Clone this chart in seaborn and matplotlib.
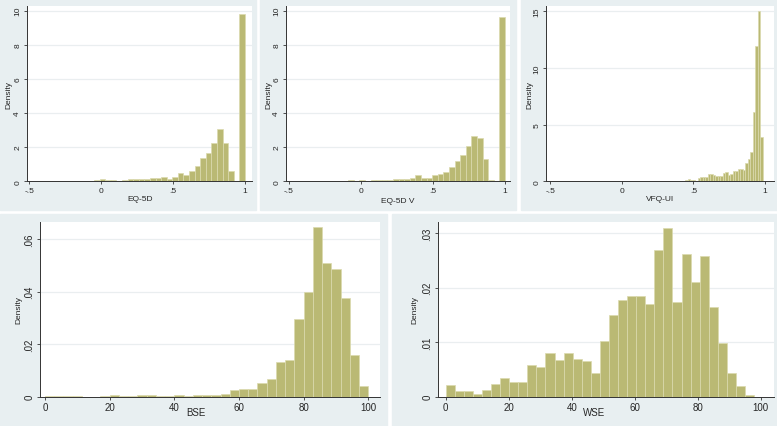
import numpy as np
import pandas as pd
import matplotlib
matplotlib.use("Agg")
import matplotlib.pyplot as plt
from matplotlib.patches import Rectangle
import seaborn as sns

# density of each histogram bin
eq5d_range = (-0.594, 1.0)
eq5d_density = [0, 0, 0, 0, 0, 0, 0, 0, 0.04, 0, 0, 0, 0, 0.03, 0.06, 0.12,
                0.08, 0.06, 0.04, 0.08, 0.12, 0.12, 0.14, 0.16, 0.18, 0.2, 0.25,
                0.12, 0.27, 0.47, 0.39, 0.62, 0.88, 1.37, 1.64, 2.27, 3.07, 2.27,
                0.62, 0, 9.82]

eq5dv_range = (-0.594, 1.0)
eq5dv_density = [0, 0, 0, 0, 0, 0, 0, 0, 0.03, 0, 0, 0, 0.02, 0.06, 0.03, 0.1,
                 0.02, 0.06, 0.06, 0.06, 0.08, 0.14, 0.14, 0.12, 0.18, 0.35, 0.18,
                 0.18, 0.39, 0.43, 0.57, 0.86, 1.17, 1.56, 2.05, 2.68, 2.52, 1.31,
                 0.05, 0, 9.65]

vfq_range = (0.425, 0.985)
vfq_density = [0.06, 0.12, 0.18, 0.15, 0.15, 0.05, 0.33, 0.35, 0.38, 0.4, 0.62,
               0.65, 0.52, 0.5, 0.5, 0.45, 0.75, 0.85, 0.55, 0.6, 0.9, 0.9, 1.1,
               1.05, 1.0, 1.65, 1.95, 2.55, 6.1, 11.9, 15.05, 3.9]

bse_range = (0, 100)
bse_density = [0.0003, 0.0003, 0.0001, 0.0004, 0, 0, 0.0001, 0.0005, 0.0002,
               0.0004, 0.0005, 0.0008, 0.0002, 0.0002, 0.0005, 0.0003, 0.0005,
               0.0005, 0.0006, 0.001, 0.0025, 0.003, 0.003, 0.0052, 0.0067,
               0.0133, 0.014, 0.0296, 0.040, 0.0644, 0.051, 0.0485, 0.0375,
               0.016, 0.004]

wse_range = (0, 97.9)
wse_density = [0.0021, 0.0011, 0.0011, 0.0005, 0.0012, 0.0023, 0.0034, 0.0027,
               0.0027, 0.0058, 0.0055, 0.0081, 0.0068, 0.0081, 0.0069, 0.0065,
               0.0043, 0.0102, 0.0149, 0.0177, 0.0184, 0.0184, 0.017, 0.0269,
               0.031, 0.0174, 0.0261, 0.0211, 0.0258, 0.0165, 0.0099, 0.0043,
               0.002, 0.0003]

top_xticks = [-0.5, 0, 0.5, 1]
top_xlabels = ["-.5", "0", ".5", "1"]
eq_yticks = [0, 2, 4, 6, 8, 10]
vfq_yticks = [0, 5, 10, 15]
bot_xticks = [0, 20, 40, 60, 80, 100]
bse_yticks = [0, 0.02, 0.04, 0.06]
bse_ylabels = ["0", ".02", ".04", ".06"]
wse_yticks = [0, 0.01, 0.02, 0.03]
wse_ylabels = ["0", ".01", ".02", ".03"]

BG = "#e8eff1"
BAR = "#bab974"
EDGE = "#dbdaae"
GRID = "#eaeef0"

sns.set_style("white")
plt.rcParams["font.family"] = ["Liberation Sans", "DejaVu Sans"]

W, H = 777, 427
fig = plt.figure(figsize=(W / 100, H / 100), dpi=100, facecolor="white")

# grey panel backgrounds, in pixels (x0, y0, x1, y1)
for x0, y0, x1, y1 in [(0, 0, 256, 211), (260, 0, 516, 211), (521, 0, 777, 211),
                       (0, 215, 387, 427), (392, 215, 777, 427)]:
    fig.patches.append(Rectangle((x0 / W, 1 - y1 / H), (x1 - x0) / W, (y1 - y0) / H,
                                 transform=fig.transFigure, color=BG, zorder=-10))


def panel(box, dens, rng, xlim, ylim, xticks, xlabels, yticks, ylabels,
          xlabel, xlab_pos, ylab_x, tick_fs, xlab_fs):
    l, t, r, b = box
    ax = fig.add_axes([l / W, 1 - b / H, (r - l) / W, (b - t) / H])
    ax.set_facecolor("white")
    n = len(dens)
    width = (rng[1] - rng[0]) / n
    df = pd.DataFrame({"x": [rng[0] + width * (i + 0.5) for i in range(n)],
                       "w": dens})
    sns.histplot(data=df, x="x", weights="w", bins=n, binrange=rng, stat="count",
                 color=BAR, edgecolor=EDGE, linewidth=0.5, alpha=1, ax=ax, zorder=3)
    ax.set_xlim(*xlim)
    ax.set_ylim(*ylim)
    ax.set_xticks(xticks)
    ax.set_xticklabels(xlabels, fontsize=tick_fs)
    ax.set_yticks(yticks)
    ax.set_yticklabels(ylabels, fontsize=tick_fs, rotation=90, va="center")
    for y in yticks[1:]:
        ax.axhline(y, color=GRID, lw=0.9, zorder=1)
    ax.tick_params(length=2.5, width=0.6, color="#333333", pad=1.5,
                   direction="out", bottom=True, left=True)
    for s in ["top", "right"]:
        ax.spines[s].set_visible(False)
    for s in ["left", "bottom"]:
        ax.spines[s].set_color("#333333")
        ax.spines[s].set_linewidth(0.7)
    ax.set_xlabel(xlabel, fontsize=xlab_fs)
    ax.xaxis.set_label_coords(*xlab_pos)
    ax.xaxis.label.set_va("center")
    ax.set_ylabel("Density", fontsize=6)
    ax.yaxis.set_label_coords(ylab_x, 0.5)
    ax.yaxis.label.set_va("center")
    return ax


top_labels = [str(v) for v in eq_yticks]
panel((26.7, 7.3, 251.7, 182.3), eq5d_density, eq5d_range, (-0.518, 1.047), (0, 10.26),
      top_xticks, top_xlabels, eq_yticks, top_labels, "EQ-5D", (0.504, -0.101), -0.079,
      6, 6)
panel((285.7, 7.3, 509.7, 182.3), eq5dv_density, eq5dv_range, (-0.523, 1.033), (0, 10.26),
      top_xticks, top_xlabels, eq_yticks, top_labels, "EQ-5D V", (0.50, -0.111), -0.075,
      6, 6)
panel((546.3, 7.3, 774, 182.3), vfq_density, vfq_range, (-0.528, 1.063), (0, 15.44),
      top_xticks, top_xlabels, vfq_yticks, [str(v) for v in vfq_yticks], "VFQ-UI",
      (0.498, -0.101), -0.070, 6, 6)
panel((40, 222.7, 380, 397.7), bse_density, bse_range, (-1.55, 103.6), (0, 0.0666),
      bot_xticks, [str(v) for v in bot_xticks], bse_yticks, bse_ylabels, "BSE",
      (0.46, -0.089), -0.061, 7, 7)
panel((438, 223.3, 774, 397.7), wse_density, wse_range, (-2.44, 104.2), (0, 0.032),
      bot_xticks, [str(v) for v in bot_xticks], wse_yticks, wse_ylabels, "WSE",
      (0.466, -0.086), -0.069, 7, 7)

fig.savefig("out.png", dpi=100, facecolor="white")
